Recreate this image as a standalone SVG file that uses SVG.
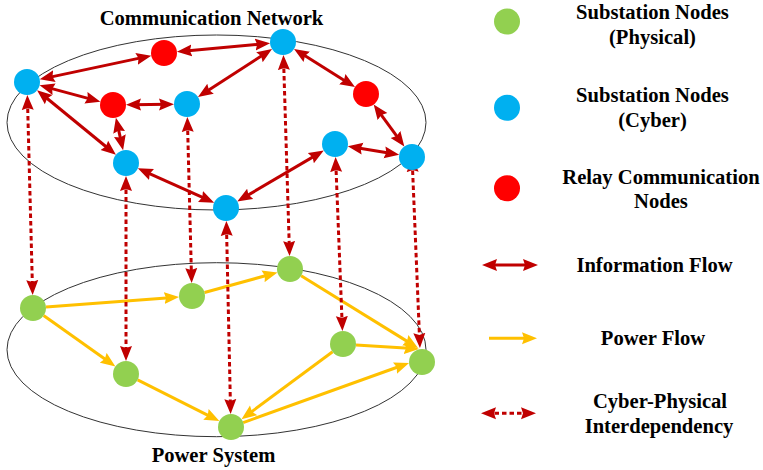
<svg xmlns="http://www.w3.org/2000/svg" width="763" height="470" viewBox="0 0 763 470">
<style>
.t{font-family:"Liberation Serif","Times New Roman",serif;font-weight:bold;font-size:20.6px;fill:#000;text-anchor:middle}
.info{stroke:#C00000;stroke-width:3;fill:none;marker-start:url(#ar);marker-end:url(#ar)}
.dash{stroke:#C00000;stroke-width:3;fill:none;stroke-dasharray:4.5 3;marker-start:url(#ar);marker-end:url(#ar)}
.pow{stroke:#FFC000;stroke-width:3;fill:none;marker-end:url(#ay)}
.ring{fill:none;stroke:#333;stroke-width:1}
.g{fill:#92D050}.b{fill:#00B0F0}.r{fill:#FF0000}
</style>
<defs>
<marker id="ar" markerUnits="userSpaceOnUse" markerWidth="17" markerHeight="13" refX="9" refY="6.5" orient="auto-start-reverse" viewBox="0 0 17 13">
<path d="M0,0.5 L15,6.5 L0,12.5 L2,6.5 Z" fill="#C00000"/>
</marker>
<marker id="ay" markerUnits="userSpaceOnUse" markerWidth="17" markerHeight="13" refX="9" refY="6.5" orient="auto" viewBox="0 0 17 13">
<path d="M0,0.5 L15,6.5 L0,12.5 L2,6.5 Z" fill="#FFC000"/>
</marker>
</defs>
<rect width="763" height="470" fill="#fff"/>
<g id="layers">
<ellipse class="ring" cx="216.5" cy="122.5" rx="209.5" ry="87.5"/>
<ellipse class="ring" cx="216.5" cy="349.7" rx="209.5" ry="87"/>
</g>
<g id="connectors">
<line class="info" x1="45.6" y1="78.1" x2="145.4" y2="56.9"/>
<line class="info" x1="182.9" y1="51.3" x2="264.1" y2="43.7"/>
<line class="info" x1="45.4" y1="86.9" x2="94.6" y2="100.1"/>
<line class="info" x1="132" y1="104.7" x2="168" y2="104.3"/>
<line class="info" x1="203" y1="93.7" x2="267" y2="52.3"/>
<line class="info" x1="299.1" y1="52.1" x2="349.9" y2="83.9"/>
<line class="info" x1="377.2" y1="109.3" x2="400.8" y2="141.7"/>
<line class="info" x1="41.7" y1="94" x2="111.3" y2="151"/>
<line class="info" x1="117.2" y1="123.6" x2="121.8" y2="144.4"/>
<line class="info" x1="143.3" y1="170.8" x2="208.7" y2="200.2"/>
<line class="info" x1="242.4" y1="198.4" x2="318.6" y2="153.6"/>
<line class="info" x1="353.7" y1="147.2" x2="393.3" y2="153.8"/>
<line class="pow" x1="46" y1="307" x2="173.1" y2="297.4"/>
<line class="pow" x1="204.5" y1="292.5" x2="271.7" y2="274"/>
<line class="pow" x1="43.6" y1="315.5" x2="110.5" y2="363"/>
<line class="pow" x1="137.6" y1="379.9" x2="214" y2="418.4"/>
<line class="pow" x1="301.1" y1="275.8" x2="412.9" y2="344.9"/>
<line class="pow" x1="356" y1="344.9" x2="413" y2="348.6"/>
<line class="pow" x1="332.6" y1="351.7" x2="246.3" y2="415.7"/>
<line class="pow" x1="243.2" y1="422.6" x2="403.4" y2="365"/>
<line class="dash" x1="27.5" y1="101" x2="32.5" y2="289"/>
<line class="dash" x1="126" y1="182" x2="126" y2="355"/>
<line class="dash" x1="187.5" y1="123" x2="191.5" y2="277"/>
<line class="dash" x1="226.5" y1="227" x2="230.5" y2="408"/>
<line class="dash" x1="283.6" y1="61" x2="289.4" y2="250"/>
<line class="dash" x1="335.8" y1="163" x2="342.2" y2="325"/>
<line class="dash" x1="412.3" y1="163" x2="419.7" y2="342"/>
</g>
<g id="cyber-nodes">
<circle id="cA" class="b" cx="27" cy="82" r="13"/>
<circle id="cB" class="b" cx="283" cy="42" r="13"/>
<circle id="cC" class="b" cx="187" cy="104" r="13"/>
<circle id="cD" class="b" cx="126" cy="163" r="13"/>
<circle id="cE" class="b" cx="335" cy="144" r="13"/>
<circle id="cF" class="b" cx="412" cy="157" r="13"/>
<circle id="cG" class="b" cx="226" cy="208" r="13"/>
</g>
<g id="relay-nodes">
<circle id="r1" class="r" cx="164" cy="53" r="13"/>
<circle id="r2" class="r" cx="113" cy="105" r="13"/>
<circle id="r3" class="r" cx="366" cy="94" r="13"/>
</g>
<g id="physical-nodes">
<circle id="p1" class="g" cx="33" cy="308" r="13"/>
<circle id="p2" class="g" cx="192" cy="296" r="13"/>
<circle id="p3" class="g" cx="290" cy="269" r="13"/>
<circle id="p4" class="g" cx="126" cy="374" r="13"/>
<circle id="p5" class="g" cx="343" cy="344" r="13"/>
<circle id="p6" class="g" cx="422" cy="362" r="13"/>
<circle id="p7" class="g" cx="231" cy="427" r="13"/>
</g>
<g id="titles">
<text class="t" x="211.5" y="25">Communication Network</text>
<text class="t" x="213.5" y="462">Power System</text>
</g>
<g id="legend">
<circle class="g" cx="507" cy="21.5" r="13"/>
<text class="t" x="652.5" y="19">Substation Nodes</text>
<text class="t" x="652.5" y="44">(Physical)</text>
<circle class="b" cx="507" cy="107.7" r="13"/>
<text class="t" x="652.5" y="102">Substation Nodes</text>
<text class="t" x="652.5" y="127">(Cyber)</text>
<circle class="r" cx="507" cy="188.3" r="13"/>
<text class="t" x="661" y="184">Relay Communication</text>
<text class="t" x="661" y="208">Nodes</text>
<line class="info" x1="488" y1="265" x2="532" y2="265"/>
<text class="t" x="654.5" y="271.5">Information Flow</text>
<line class="pow" x1="489" y1="338.3" x2="531" y2="338.3"/>
<text class="t" x="653" y="345">Power Flow</text>
<line class="dash" x1="487" y1="413.3" x2="530" y2="413.3"/>
<text class="t" x="660" y="408">Cyber-Physical</text>
<text class="t" x="659" y="433">Interdependency</text>
</g>
</svg>
